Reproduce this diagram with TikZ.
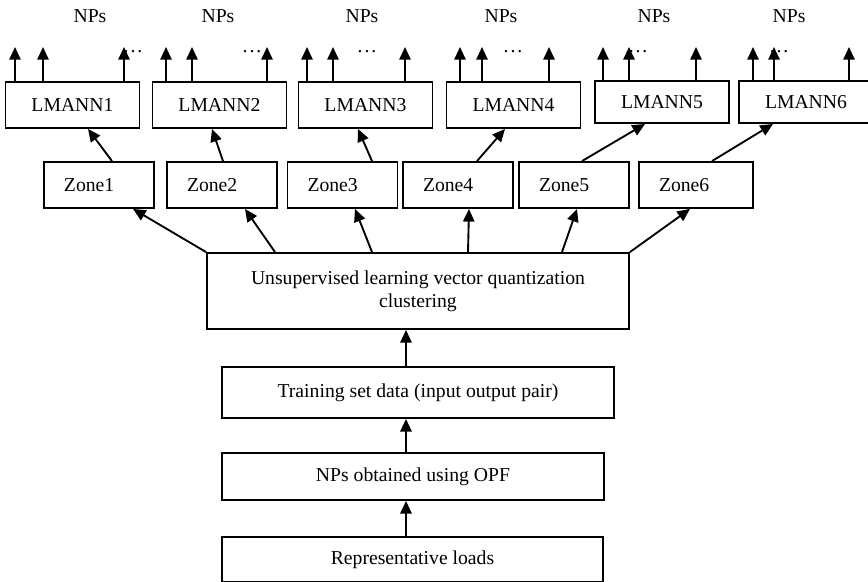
\documentclass[tikz,border=0pt]{standalone}
\usepackage{fontspec}
\setmainfont{Liberation Serif}
\usetikzlibrary{arrows.meta,positioning,calc}

\begin{document}
\begin{tikzpicture}[
  x=0.3mm, y=-0.3mm,
  every node/.style={font=\fontsize{16.8}{19.5}\selectfont},
  box/.style={draw, line width=1.6pt, inner sep=0pt, align=center},
  lmann/.style={box, minimum width=40.2mm, minimum height=13.8mm},
  zonebox/.style={box, align=left, text width=21mm, inner xsep=6mm,
                  minimum height=13.8mm},
  arrow/.style={-{Triangle[length=3.8mm, width=3.4mm]}, line width=1.6pt},
]
\useasboundingbox (0,0) rectangle (868,581);

%% ── Local networks ────────────────────────────────────────────────────────
\node[lmann] (L1) at (72.5,105) {LMANN1};
\node[lmann] (L2) at (219.5,105) {LMANN2};
\node[lmann] (L3) at (365.5,105) {LMANN3};
\node[lmann] (L4) at (513.5,105) {LMANN4};
\node[lmann, minimum height=12.6mm] (L5) at (662,102) {LMANN5};
\node[lmann, minimum height=12.6mm] (L6) at (806,102) {LMANN6};

% NPs labels
\foreach \x [count=\i] in {90,218,362,501,654,789}
  \node (np\i) at (\x,16) {NPs};

% outputs of each network
\foreach \b/\xa/\xb/\xc/\xd in {L1/15/43/124/133, L2/166/192/267/252,
    L3/307/333/405/367, L4/460/482/549/513, L5/603/629/696/638,
    L6/753/774/849/779} {
  \node (\b-dots) at (\xd,52) {.\hspace{1.6pt}.\hspace{1.6pt}.};
  \foreach \x [count=\i] in {\xa,\xb,\xc} {
    \coordinate (\b-\i) at (\x,47);
    \draw[arrow] (\b.north -| \b-\i) -- (\b-\i);
  }
}

%% ── Zones ─────────────────────────────────────────────────────────────────
\node[zonebox] (Z1) at (99,185) {Zone1};
\node[zonebox] (Z2) at (222,185) {Zone2};
\node[zonebox] (Z3) at (342.5,185) {Zone3};
\node[zonebox] (Z4) at (458,185) {Zone4};
\node[zonebox] (Z5) at (574,185) {Zone5};
\node[zonebox, text width=22.2mm] (Z6) at (696,185) {Zone6};

% zone -> network
\draw[arrow] (Z1.north -| 112,0) -- (L1.south -| 88,0);
\draw[arrow] (Z2.north -| 223,0) -- (L2.south -| 212,0);
\draw[arrow] (Z3.north -| 372,0) -- (L3.south -| 358,0);
\draw[arrow] (Z4.north -| 477,0) -- (L4.south -| 505,0);
\draw[arrow] (Z5.north -| 582,0) -- (L5.south -| 645,0);
\draw[arrow] (Z6.north -| 712,0) -- (L6.south -| 773,0);

%% ── Processing chain ──────────────────────────────────────────────────────
\node[box, minimum width=126.6mm, minimum height=22.8mm] (U) at (418,291)
  {Unsupervised learning vector quantization\\clustering};
\node[box, minimum width=117.6mm, minimum height=15.3mm] (T) at (418,392.5)
  {Training set data (input output pair)};
\node[box, minimum width=114.6mm, minimum height=14.1mm] (N) at (413,476.5)
  {NPs obtained using OPF};
\node[box, minimum width=114.3mm, minimum height=13.5mm] (R) at (412.5,559.5)
  {Representative loads};

% clustering -> zones
\draw[arrow] (U.north west) -- (Z1.south -| 133,0);
\draw[arrow] (U.north -| 275,0) -- (Z2.south -| 245,0);
\draw[arrow] (U.north -| 372,0) -- (Z3.south -| 355,0);
\draw[arrow] (U.north -| 468,0) -- (Z4.south -| 469,0);
\draw[arrow] (U.north -| 562,0) -- (Z5.south -| 577,0);
\draw[arrow] (U.north east) -- (Z6.south -| 690,0);

% upward flow
\coordinate (spine) at (406,0);
\draw[arrow] (R.north -| spine) -- (N.south -| spine);
\draw[arrow] (N.north -| spine) -- (T.south -| spine);
\draw[arrow] (T.north -| spine) -- (U.south -| spine);

\end{tikzpicture}
\end{document}
